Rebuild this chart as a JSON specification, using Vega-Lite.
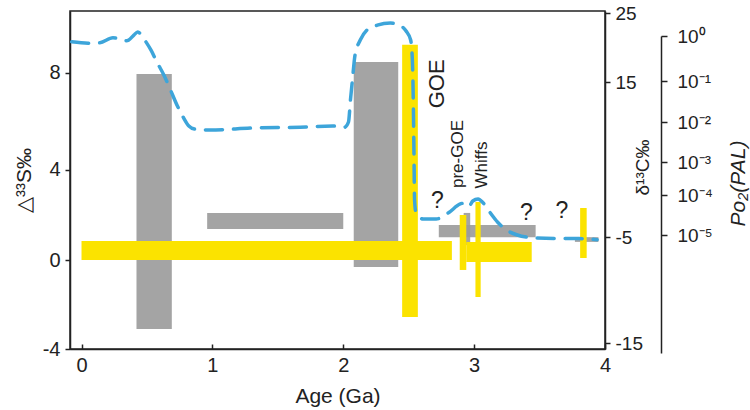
{
  "$schema": "https://vega.github.io/schema/vega-lite/v6.json",
  "width": 535,
  "height": 338,
  "autosize": {"type": "none"},
  "padding": {"left": 70, "top": 11, "right": 145, "bottom": 61},
  "config": {
    "font": "Liberation Sans",
    "view": {"stroke": "#222222", "strokeWidth": 1.5},
    "axis": {
      "domainColor": "#222222", "domainWidth": 1.5,
      "tickColor": "#222222", "tickWidth": 1.5,
      "labelColor": "#222222", "titleColor": "#222222",
      "grid": false, "labelFontSize": 20, "titleFontSize": 21,
      "titleFontWeight": "normal", "labelFlush": false, "labelOverlap": false
    }
  },
  "datasets": {
    "hatched": [
      {"age_start": 0.42, "age_end": 0.69, "d33s_low": -3.1, "d33s_high": 7.94},
      {"age_start": 0.96, "age_end": 2.0, "d33s_low": 1.37, "d33s_high": 2.08},
      {"age_start": 2.08, "age_end": 2.42, "d33s_low": -0.31, "d33s_high": 8.43},
      {"age_start": 2.73, "age_end": 3.47, "d33s_low": 1.01, "d33s_high": 1.55},
      {"age_start": 2.92, "age_end": 2.97, "d33s_low": 0.66, "d33s_high": 2.08},
      {"age_start": 3.77, "age_end": 3.95, "d33s_low": 0.8, "d33s_high": 1.01}
    ],
    "yellow": [
      {"age_start": 0.0, "age_end": 2.83, "d13c_low": -7.17, "d13c_high": -5.38},
      {"age_start": 2.45, "age_end": 2.57, "d13c_low": -12.55, "d13c_high": 20.4},
      {"age_start": 2.89, "age_end": 2.94, "d13c_low": -8.11, "d13c_high": -2.16},
      {"age_start": 2.94, "age_end": 3.44, "d13c_low": -7.36, "d13c_high": -5.47},
      {"age_start": 3.01, "age_end": 3.05, "d13c_low": -10.66, "d13c_high": -0.48},
      {"age_start": 3.81, "age_end": 3.86, "d13c_low": -6.98, "d13c_high": -1.26}
    ],
    "po2": [
      {"age": -0.075, "log_po2": -0.13}, {"age": 0.05, "log_po2": -0.16},
      {"age": 0.14, "log_po2": -0.15}, {"age": 0.24, "log_po2": -0.04},
      {"age": 0.30, "log_po2": -0.07}, {"age": 0.33, "log_po2": -0.11},
      {"age": 0.36, "log_po2": -0.09}, {"age": 0.40, "log_po2": 0.02},
      {"age": 0.43, "log_po2": 0.09}, {"age": 0.47, "log_po2": -0.04},
      {"age": 0.53, "log_po2": -0.31}, {"age": 0.58, "log_po2": -0.6},
      {"age": 0.63, "log_po2": -0.87}, {"age": 0.68, "log_po2": -1.22},
      {"age": 0.73, "log_po2": -1.59}, {"age": 0.78, "log_po2": -1.9},
      {"age": 0.82, "log_po2": -2.1}, {"age": 0.87, "log_po2": -2.18},
      {"age": 0.98, "log_po2": -2.2}, {"age": 1.31, "log_po2": -2.15},
      {"age": 1.67, "log_po2": -2.13}, {"age": 1.92, "log_po2": -2.1},
      {"age": 2.01, "log_po2": -2.13}, {"age": 2.04, "log_po2": -2.0},
      {"age": 2.055, "log_po2": -1.46}, {"age": 2.07, "log_po2": -0.98},
      {"age": 2.09, "log_po2": -0.42}, {"age": 2.13, "log_po2": -0.09},
      {"age": 2.18, "log_po2": 0.13}, {"age": 2.26, "log_po2": 0.24},
      {"age": 2.36, "log_po2": 0.29}, {"age": 2.43, "log_po2": 0.24},
      {"age": 2.48, "log_po2": 0.11}, {"age": 2.515, "log_po2": -0.09},
      {"age": 2.528, "log_po2": -0.53}, {"age": 2.535, "log_po2": -1.46},
      {"age": 2.54, "log_po2": -2.7}, {"age": 2.545, "log_po2": -4.13},
      {"age": 2.555, "log_po2": -4.43}, {"age": 2.61, "log_po2": -4.6},
      {"age": 2.71, "log_po2": -4.6}, {"age": 2.81, "log_po2": -4.43},
      {"age": 2.89, "log_po2": -4.23}, {"age": 2.93, "log_po2": -4.2},
      {"age": 2.96, "log_po2": -4.28}, {"age": 2.99, "log_po2": -4.15},
      {"age": 3.03, "log_po2": -4.1}, {"age": 3.07, "log_po2": -4.2},
      {"age": 3.12, "log_po2": -4.43}, {"age": 3.18, "log_po2": -4.68},
      {"age": 3.25, "log_po2": -4.88}, {"age": 3.33, "log_po2": -5.0},
      {"age": 3.46, "log_po2": -5.08}, {"age": 3.65, "log_po2": -5.1},
      {"age": 3.80, "log_po2": -5.1}, {"age": 3.94, "log_po2": -5.13}
    ],
    "labels": [
      {"label": "GOE", "age": 2.715, "log_po2": -1.07},
      {"label": "pre-GOE", "age": 2.88, "log_po2": -2.8},
      {"label": "Whiffs", "age": 3.06, "log_po2": -3.09},
      {"label": "?", "age": 2.72, "log_po2": -4.15},
      {"label": "?", "age": 3.40, "log_po2": -4.45},
      {"label": "?", "age": 3.67, "log_po2": -4.4}
    ]
  },
  "resolve": {"scale": {"y": "independent"}, "axis": {"y": "independent"}},
  "layer": [
    {
      "data": {"name": "hatched"},
      "mark": {"type": "rect", "fill": "#9a9a9a", "opacity": 0.9},
      "encoding": {
        "x": {
          "field": "age_start", "type": "quantitative",
          "scale": {"domain": [-0.088, 4], "nice": false, "zero": false},
          "axis": {"title": "Age (Ga)", "values": [0, 1, 2, 3, 4], "labelExpr": "'' + datum.value", "tickSize": -5, "labelPadding": 11, "titlePadding": 10}
        },
        "x2": {"field": "age_end"},
        "y": {
          "field": "d33s_low", "type": "quantitative",
          "scale": {"domain": [-4, 0, 4, 8, 10.54], "range": [338, 249, 158.5, 61.5, 0], "nice": false, "zero": false},
          "axis": {"orient": "left", "title": "△³³S‰", "values": [-4, 0, 4, 8], "labelExpr": "'' + datum.value", "tickSize": 5, "labelPadding": 5, "titlePadding": 8}
        },
        "y2": {"field": "d33s_high"}
      }
    },
    {
      "data": {"name": "yellow"},
      "mark": {"type": "rect", "fill": "#fbe300"},
      "encoding": {
        "x": {"field": "age_start", "type": "quantitative", "title": "Age (Ga)"},
        "x2": {"field": "age_end"},
        "y": {
          "field": "d13c_low", "type": "quantitative",
          "scale": {"domain": [-15.57, -15, -5, 15, 25, 25.29], "range": [338, 332, 226, 71, 2, 0], "nice": false, "zero": false},
          "axis": {"orient": "right", "title": "δ¹³C‰", "values": [-15, -5, 15, 25], "labelExpr": "'' + datum.value", "tickSize": 5, "labelPadding": 5,
                   "labelFontSize": 19, "titleFontSize": 19, "titleAngle": 270, "titleX": 37, "titleY": 156,
                   "titleAlign": "center", "titleBaseline": "middle"}
        },
        "y2": {"field": "d13c_high"}
      }
    },
    {
      "layer": [
        {
          "data": {"name": "po2"},
          "mark": {"type": "line", "stroke": "#3da5da", "strokeWidth": 3.5, "strokeDash": [17, 11], "strokeCap": "round", "interpolate": "monotone"},
          "encoding": {
            "x": {"field": "age", "type": "quantitative", "title": "Age (Ga)"},
            "y": {
              "field": "log_po2", "type": "quantitative",
              "scale": {"domain": [-8.28, -5, -4, -3, -2, -1, 0], "range": [342, 224, 184, 151, 111, 70, 25], "nice": false, "zero": false},
              "axis": {"orient": "right", "offset": 56, "title": "Po₂(PAL)", "values": [-5, -4, -3, -2, -1, 0],
                       "labelExpr": "datum.value == 0 ? '10⁰' : '10⁻' + ['⁰','¹','²','³','⁴','⁵'][-datum.value]",
                       "tickSize": 6, "labelPadding": 10, "labelFontSize": 19,
                       "titleAngle": 270, "titleX": 77, "titleY": 172, "titleAlign": "center", "titleBaseline": "middle",
                       "titleFontStyle": "italic", "titleFontSize": 21}
            }
          }
        },
        {
          "data": {"name": "labels"},
          "transform": [{"filter": "datum.label == 'GOE'"}],
          "mark": {"type": "text", "fontSize": 22, "angle": 270, "align": "center", "baseline": "middle", "color": "#222222"},
          "encoding": {
            "x": {"field": "age", "type": "quantitative", "title": "Age (Ga)"},
            "y": {"field": "log_po2", "type": "quantitative"},
            "text": {"field": "label"}
          }
        },
        {
          "data": {"name": "labels"},
          "transform": [{"filter": "datum.label == 'pre-GOE' || datum.label == 'Whiffs'"}],
          "mark": {"type": "text", "fontSize": 17, "angle": 270, "align": "center", "baseline": "middle", "color": "#222222"},
          "encoding": {
            "x": {"field": "age", "type": "quantitative", "title": "Age (Ga)"},
            "y": {"field": "log_po2", "type": "quantitative"},
            "text": {"field": "label"}
          }
        },
        {
          "data": {"name": "labels"},
          "transform": [{"filter": "datum.label == '?'"}],
          "mark": {"type": "text", "fontSize": 23, "align": "center", "baseline": "middle", "color": "#222222"},
          "encoding": {
            "x": {"field": "age", "type": "quantitative", "title": "Age (Ga)"},
            "y": {"field": "log_po2", "type": "quantitative"},
            "text": {"field": "label"}
          }
        }
      ]
    }
  ]
}
